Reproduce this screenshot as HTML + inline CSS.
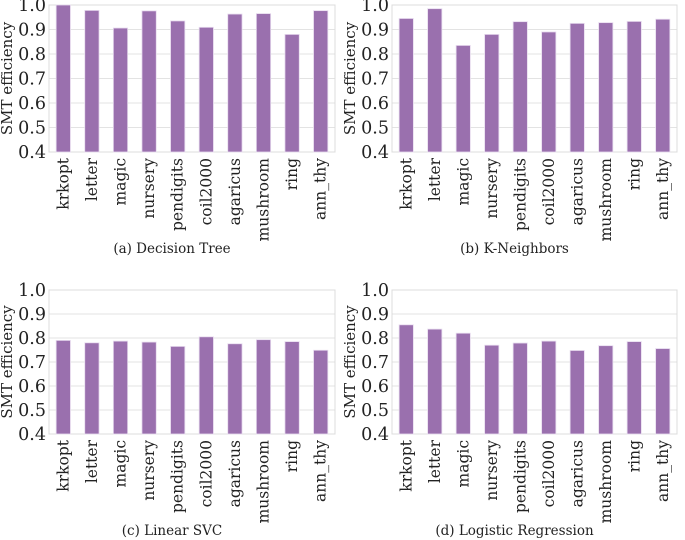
<!DOCTYPE html>
<html><head><meta charset="utf-8"><style>
body{margin:0;background:#fff;}
svg{display:block;font-family:"DejaVu Serif","Liberation Serif",serif;}
</style></head><body>
<svg id="c" width="685" height="540"></svg>
<script>
const categories=["krkopt","letter","magic","nursery","pendigits","coil2000","agaricus","mushroom","ring","ann_thy"];
const yTicks=[0.4,0.5,0.6,0.7,0.8,0.9,1.0];
const dtValues=[1.0,0.978,0.906,0.976,0.935,0.909,0.963,0.965,0.880,0.977];
const knValues=[0.945,0.985,0.835,0.880,0.932,0.890,0.925,0.928,0.933,0.942];
const svcValues=[0.790,0.780,0.787,0.783,0.765,0.805,0.776,0.793,0.785,0.749];
const lrValues=[0.855,0.837,0.820,0.770,0.779,0.787,0.748,0.768,0.785,0.756];
const captions=["(a) Decision Tree","(b) K-Neighbors","(c) Linear SVC","(d) Logistic Regression"];
const NS="http://www.w3.org/2000/svg";
const svg=document.getElementById('c');
function mk(t,a,p){const e=document.createElementNS(NS,t);for(const k in a)e.setAttribute(k,a[k]);(p||svg).appendChild(e);return e;}
const panels=[
 {vals:dtValues,x0:49,x1:335,yTop:5,yBot:152,cap:248,name:'decision-tree'},
 {vals:knValues,x0:392,x1:677,yTop:5,yBot:152,cap:248,name:'k-neighbors'},
 {vals:svcValues,x0:49,x1:335,yTop:290,yBot:434,cap:530,name:'linear-svc'},
 {vals:lrValues,x0:392,x1:677,yTop:290,yBot:434,cap:530,name:'logistic-regression'}
];
panels.forEach((p,pi)=>{
 const g=mk('g',{});
 
 
 const y=v=>p.yBot-(v-0.4)/0.6*(p.yBot-p.yTop);
 const step=(p.x1-p.x0)/categories.length;
 const x=i=>p.x0+step*(i+0.5);
 yTicks.forEach(t=>{
  const l=mk('line',{x1:p.x0,x2:p.x1,y1:y(t),y2:y(t),stroke:'#e3e3e3','stroke-width':1},g);
  
  
  const tx=mk('text',{x:p.x0-3,y:y(t)+6,'text-anchor':'end','font-size':17.5,fill:'#222'},g);
  tx.textContent=t.toFixed(1);
  
  
 });
 const fr=mk('rect',{x:p.x0,y:p.yTop,width:p.x1-p.x0,height:p.yBot-p.yTop,fill:'none',stroke:'#dcdcdc'},g);
 
 
 p.vals.forEach((v,i)=>{
  const bw=step*0.5;
  const b=mk('rect',{x:x(i)-bw/2,y:y(v),width:bw,height:p.yBot-y(v),fill:'#9a70ae',stroke:'#e8dcef','stroke-width':0.8},g);
  
  
  const tl=mk('text',{x:0,y:0,'text-anchor':'end','font-size':15.5,fill:'#222',transform:`translate(${x(i)+5},${p.yBot+6}) rotate(-90)`},g);
  tl.textContent=categories[i];
  
  
 });
 const yt=mk('text',{x:0,y:0,'text-anchor':'middle','font-size':15,fill:'#222',transform:`translate(${p.x0-37},${(p.yTop+p.yBot)/2}) rotate(-90)`},g);
 yt.textContent='SMT efficiency';
 
 
 const c=mk('text',{x:(p.x0+p.x1)/2-20,y:p.cap+5,'text-anchor':'middle','font-size':13.5,fill:'#222'},g);
 c.textContent=captions[pi];
 
 
});
</script>
</body></html>
